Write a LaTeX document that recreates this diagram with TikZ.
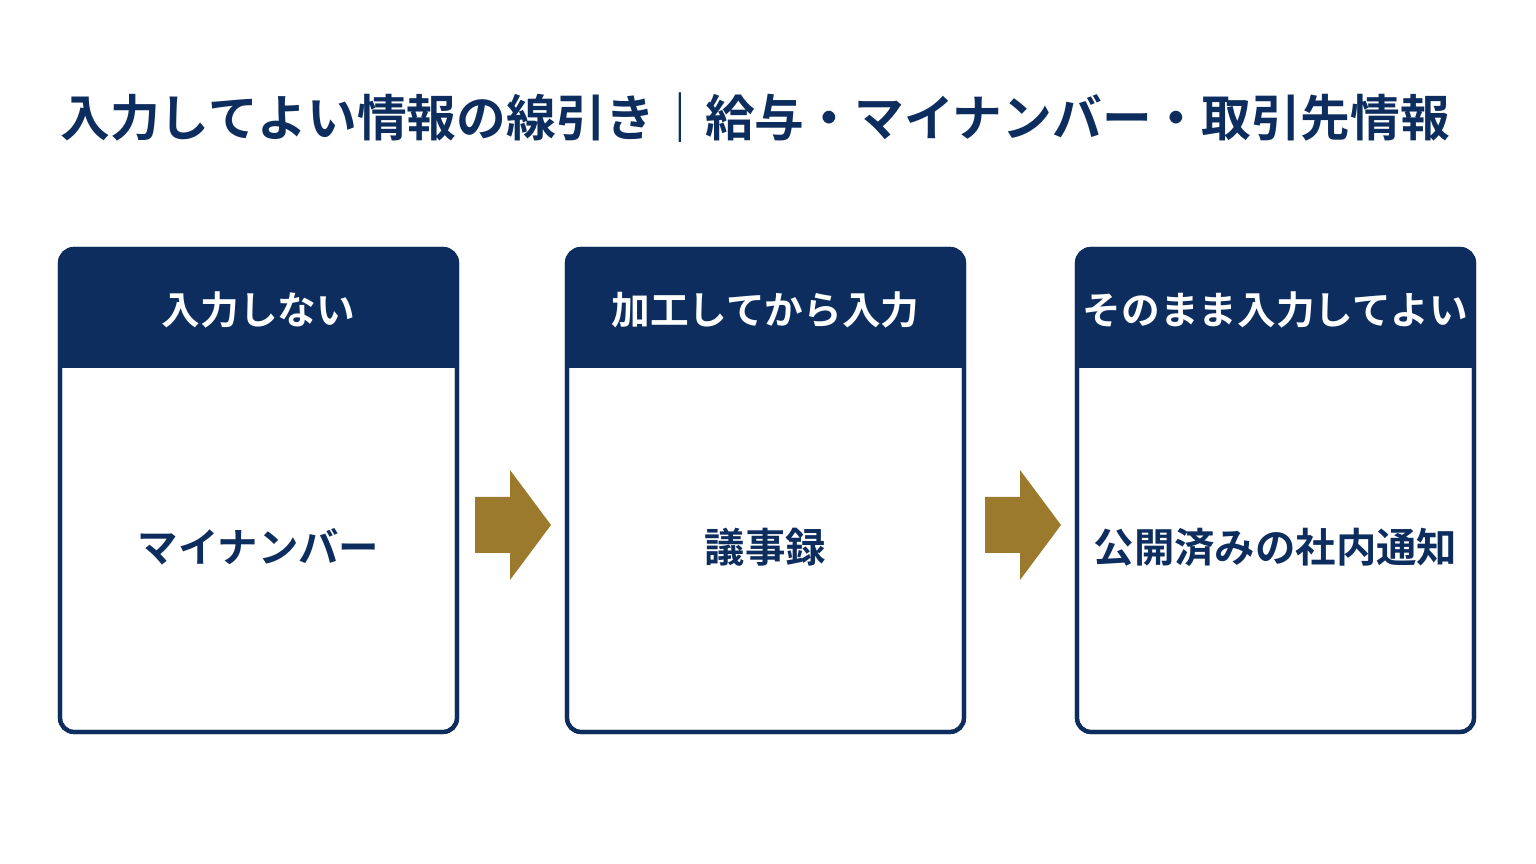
\documentclass[tikz,border=0pt]{standalone}
\usepackage{fontspec}
\newfontfamily\jpbold{Noto Sans CJK JP}[BoldFont={* Bold}]
\usetikzlibrary{positioning}
\definecolor{navy}{RGB}{12,45,94}
\definecolor{gold}{RGB}{155,122,46}
\tikzset{
  card/.style={draw=navy, line width=2.4pt, rounded corners=8pt, fill=white},
  head/.style={fill=navy, rounded corners=8pt},
  headtxt/.style={text=white, font=\jpbold\bfseries\fontsize{22}{26}\selectfont},
  bodytxt/.style={text=navy, font=\jpbold\bfseries\fontsize{23}{27}\selectfont},
  goarrow/.style={fill=gold}
}
\begin{document}
\begin{tikzpicture}[x=0.02cm,y=-0.02cm]
    \useasboundingbox (0,0) rectangle (1536,864);
    % Title
    \node[text=navy, font=\jpbold\bfseries\fontsize{28.3}{33}\selectfont, anchor=west, inner sep=0pt] (title) at (60,118)
        {入力してよい情報の線引き｜給与・マイナンバー・取引先情報};

    % Cards
    \foreach \x/\name/\hd/\bd in {60/ng/入力しない/マイナンバー,
                                  567/mid/加工してから入力/議事録,
                                  1077/ok/そのまま入力してよい/公開済みの社内通知} {
        \draw[card] (\x,249) rectangle (\x+397,732);
        \fill[head] (\x,249) rectangle (\x+397,368);
        \fill[navy] (\x,330) rectangle (\x+397,368);
        \draw[navy, line width=2.4pt, rounded corners=8pt] (\x,249) rectangle (\x+397,732);
        \node[headtxt] (\name-head) at (\x+198.5,310) {\hd};
        \node[bodytxt] (\name-body) at (\x+198.5,547) {\bd};
    }

    % Arrows between cards
    \foreach \x in {475,985} {
        \fill[goarrow] (\x,497) -- (\x+35,497) -- (\x+35,470) -- (\x+76,525)
            -- (\x+35,580) -- (\x+35,553) -- (\x,553) -- cycle;
    }
\end{tikzpicture}
\end{document}
